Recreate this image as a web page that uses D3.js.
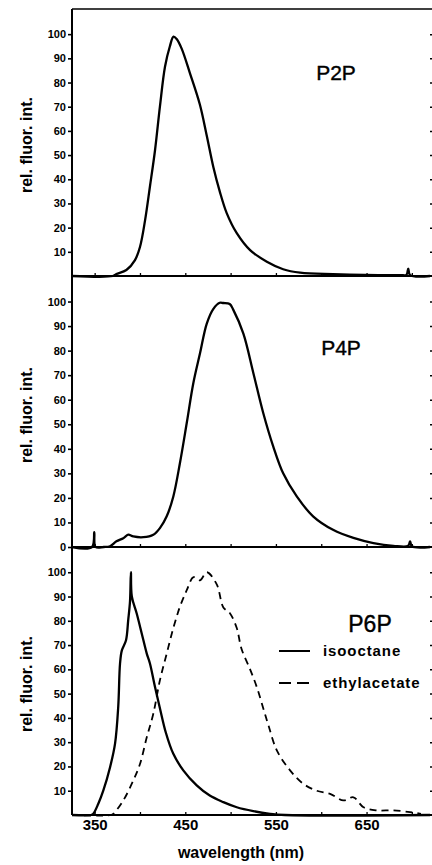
<!DOCTYPE html>
<html>
<head>
<meta charset="utf-8">
<script src="https://cdn.jsdelivr.net/npm/d3@7"></script>
<style>
  body { margin: 0; background: #fff; }
  svg { display: block; }
</style>
</head>
<body>
<div id="chart"></div>
<script>
// values (wavelength in nm, rel. fluorescence intensity)
const p2pWavelength = [325, 370, 374, 385, 394.5, 400, 405.6, 411, 416.6, 422, 427.6, 433, 437, 440.5, 446, 455, 466, 473.7, 481, 488, 495.7, 506.8, 521.5, 540, 558, 576.7, 613, 687, 694, 696, 698, 720];
const p2pIntensity  = [0, 0, 0.8, 2.5, 6.6, 12, 23, 37, 52, 70, 86.5, 95, 99, 98, 94, 84, 71, 58, 45, 35, 26, 17.7, 10.7, 5.9, 2.8, 1.4, 0.8, 0.4, 0.5, 3, 0.4, 0];

const p4pWavelength = [325, 347, 349.6, 351, 360, 367, 374, 381.6, 387, 392.6, 403.7, 414.7, 422, 429.5, 436.8, 444, 451.6, 458.9, 466.3, 473.7, 481, 488, 492, 499, 503, 514, 525, 536, 547, 558, 573, 591, 613, 635.5, 657.6, 679.6, 696, 698, 700, 720];
const p4pIntensity  = [0, 0, 6, 0, 0, 0.3, 2.3, 3.6, 5, 4.3, 4, 5, 7.7, 12.5, 20.6, 34, 50.5, 66.8, 79, 91, 97, 99.5, 99.4, 99, 96.6, 87, 71, 54.6, 41, 30, 20.6, 12.5, 7, 3.7, 1.6, 0.5, 0.5, 2.3, 0.3, 0];

const isooctaneWavelength = [325, 346, 348.5, 354, 359.5, 367, 372.5, 376, 378, 380, 384.6, 387, 389, 390, 391, 396.4, 402, 407.5, 411, 416.6, 422, 428.5, 436.8, 447.8, 462.6, 477, 492, 506.8, 525, 543.5, 560, 720];
const isooctaneIntensity  = [0, 0, 0.5, 4.6, 10, 19.7, 29.4, 44.5, 62.4, 67.8, 72, 80.2, 88, 100, 90, 83, 74.7, 66.5, 62.4, 52.7, 44, 34, 25.2, 18.4, 12.2, 8, 5.3, 3.2, 1.6, 0.5, 0, 0];

const ethylacetateWavelength = [325, 368, 370.6, 381.6, 392.6, 400, 407.5, 414.7, 422, 429.5, 436.8, 444, 451.6, 459, 466.3, 473.7, 484.7, 492, 499.4, 506.8, 512, 521.5, 528.9, 536, 541.7, 551, 565.6, 580, 595, 609.8, 624.5, 635.5, 646.6, 661, 679.6, 698, 710];
const ethylacetateIntensity  = [0, 0, 0.5, 6, 14.2, 21, 32, 41.7, 55.5, 66.5, 77, 85.7, 92.6, 98, 96.7, 100, 95, 85.5, 83, 77, 68.5, 60, 52.7, 44, 37, 26.6, 18.4, 12.9, 10, 8.7, 6, 7.3, 3.2, 1.9, 1.9, 1.2, 0.5];

const wavelengthTicks  = [350, 400, 450, 500, 550, 600, 650, 700];
const wavelengthLabels = [350, 450, 550, 650];
const intensityTicks   = [10, 20, 30, 40, 50, 60, 70, 80, 90, 100];
const intensityTicksZero = [0, 10, 20, 30, 40, 50, 60, 70, 80, 90, 100];

const seriesNames = ["isooctane", "ethylacetate"];

const zip = (ws, vs) => ws.map((w, i) => ({ w, v: vs[i] }));

// layout
const width = 432, height = 865;
const font = "'Liberation Sans', Arial, Helvetica, sans-serif";

const svg = d3.select("#chart").append("svg")
  .attr("width", width)
  .attr("height", height)
  .style("font-family", font);

const x = d3.scaleLinear().domain([325, 720]).range([72, 430]);

const panels = [
  { title: "P2P", top: 9, bottom: 276, ticks: intensityTicks, titleX: 336, titleY: 80, titleSize: 21, labelY: 145,
    series: [{ data: zip(p2pWavelength, p2pIntensity), dash: null }] },
  { title: "P4P", top: 276, bottom: 547, ticks: intensityTicksZero, titleX: 341, titleY: 355, titleSize: 21, labelY: 415,
    series: [{ data: zip(p4pWavelength, p4pIntensity), dash: null }] },
  { title: "P6P", top: 547, bottom: 815, ticks: intensityTicks, titleX: 370, titleY: 632, titleSize: 23, labelY: 684,
    series: [
      { data: zip(isooctaneWavelength, isooctaneIntensity), dash: null },
      { data: zip(ethylacetateWavelength, ethylacetateIntensity), dash: "7,5" }
    ] }
];

// left axis spine over all three panels
svg.append("line")
  .attr("x1", x.range()[0]).attr("x2", x.range()[0])
  .attr("y1", panels[0].top).attr("y2", panels[2].bottom)
  .attr("stroke", "#000").attr("stroke-width", 2);

// top frame line
svg.append("line")
  .attr("x1", x.range()[0]).attr("x2", width)
  .attr("y1", panels[0].top).attr("y2", panels[0].top)
  .attr("stroke", "#000").attr("stroke-width", 1.5);

panels.forEach(p => {
  const y = d3.scaleLinear().domain([0, 110.4]).range([p.bottom, p.top]);
  const g = svg.append("g");

  // baseline
  g.append("line")
    .attr("x1", x.range()[0]).attr("x2", width)
    .attr("y1", y(0)).attr("y2", y(0))
    .attr("stroke", "#000").attr("stroke-width", 2.2);

  // left ticks + labels
  g.append("g")
    .attr("transform", `translate(${x.range()[0]},0)`)
    .call(d3.axisLeft(y).tickValues(p.ticks).tickSize(4).tickPadding(2).tickFormat(d3.format("d")))
    .call(a => a.select(".domain").remove())
    .call(a => a.selectAll("line").attr("stroke", "#000").attr("stroke-width", 1.6))
    .call(a => a.selectAll("text").attr("fill", "#000")
      .style("font-family", font).style("font-size", "11px").style("font-weight", "bold"));

  // right ticks
  g.append("g")
    .attr("transform", `translate(${x.range()[1]},0)`)
    .call(d3.axisRight(y).tickValues(intensityTicks).tickSize(3).tickFormat(""))
    .call(a => a.select(".domain").remove())
    .call(a => a.selectAll("line").attr("stroke", "#000").attr("stroke-width", 1.5));

  // inward wavelength ticks
  g.append("g")
    .attr("transform", `translate(0,${y(0)})`)
    .call(d3.axisTop(x).tickValues(wavelengthTicks).tickSize(3).tickFormat(""))
    .call(a => a.select(".domain").remove())
    .call(a => a.selectAll("line").attr("stroke", "#000").attr("stroke-width", 1.3));

  // curves
  const line = d3.line()
    .x(d => x(d.w))
    .y(d => y(d.v))
    .curve(d3.curveCatmullRom.alpha(0.5));

  p.series.forEach(s => {
    g.append("path").datum(s.data)
      .attr("fill", "none")
      .attr("stroke", "#000")
      .attr("stroke-width", s.dash ? 1.8 : 2.3)
      .attr("stroke-dasharray", s.dash)
      .attr("stroke-linejoin", "round")
      .attr("d", line);
  });

  // panel title
  g.append("text")
    .attr("x", p.titleX).attr("y", p.titleY)
    .attr("text-anchor", "middle")
    .attr("stroke", "#000").attr("stroke-width", 0.4)
    .style("font-size", p.titleSize + "px")
    .text(p.title);

  // y axis title
  g.append("text")
    .attr("transform", `translate(32,${p.labelY}) rotate(-90)`)
    .attr("text-anchor", "middle")
    .style("font-size", "16px").style("font-weight", "bold")
    .text("rel. fluor. int.");
});

// wavelength labels under the bottom panel
svg.append("g")
  .attr("transform", `translate(0,${panels[2].bottom})`)
  .call(d3.axisBottom(x).tickValues(wavelengthLabels).tickSize(0).tickPadding(4).tickFormat(d3.format("d")))
  .call(a => a.select(".domain").remove())
  .call(a => a.selectAll("text").attr("fill", "#000")
    .style("font-family", font).style("font-size", "15px").style("font-weight", "bold"));

svg.append("text")
  .attr("x", 241).attr("y", 858)
  .attr("text-anchor", "middle")
  .style("font-size", "16px").style("font-weight", "bold")
  .text("wavelength (nm)");

// legend in the P6P panel
const legend = svg.append("g").attr("transform", "translate(279,651)");
seriesNames.forEach((name, i) => {
  const row = legend.append("g").attr("transform", `translate(0,${i * 32})`);
  row.append("line")
    .attr("x1", 0).attr("x2", 31)
    .attr("stroke", "#000").attr("stroke-width", 2)
    .attr("stroke-dasharray", panels[2].series[i].dash ? "12,6" : null);
  row.append("text")
    .attr("x", 44).attr("y", 5)
    .style("font-size", "15px").style("font-weight", "bold")
    .style("letter-spacing", "0.9px")
    .text(name);
});
</script>
</body>
</html>
